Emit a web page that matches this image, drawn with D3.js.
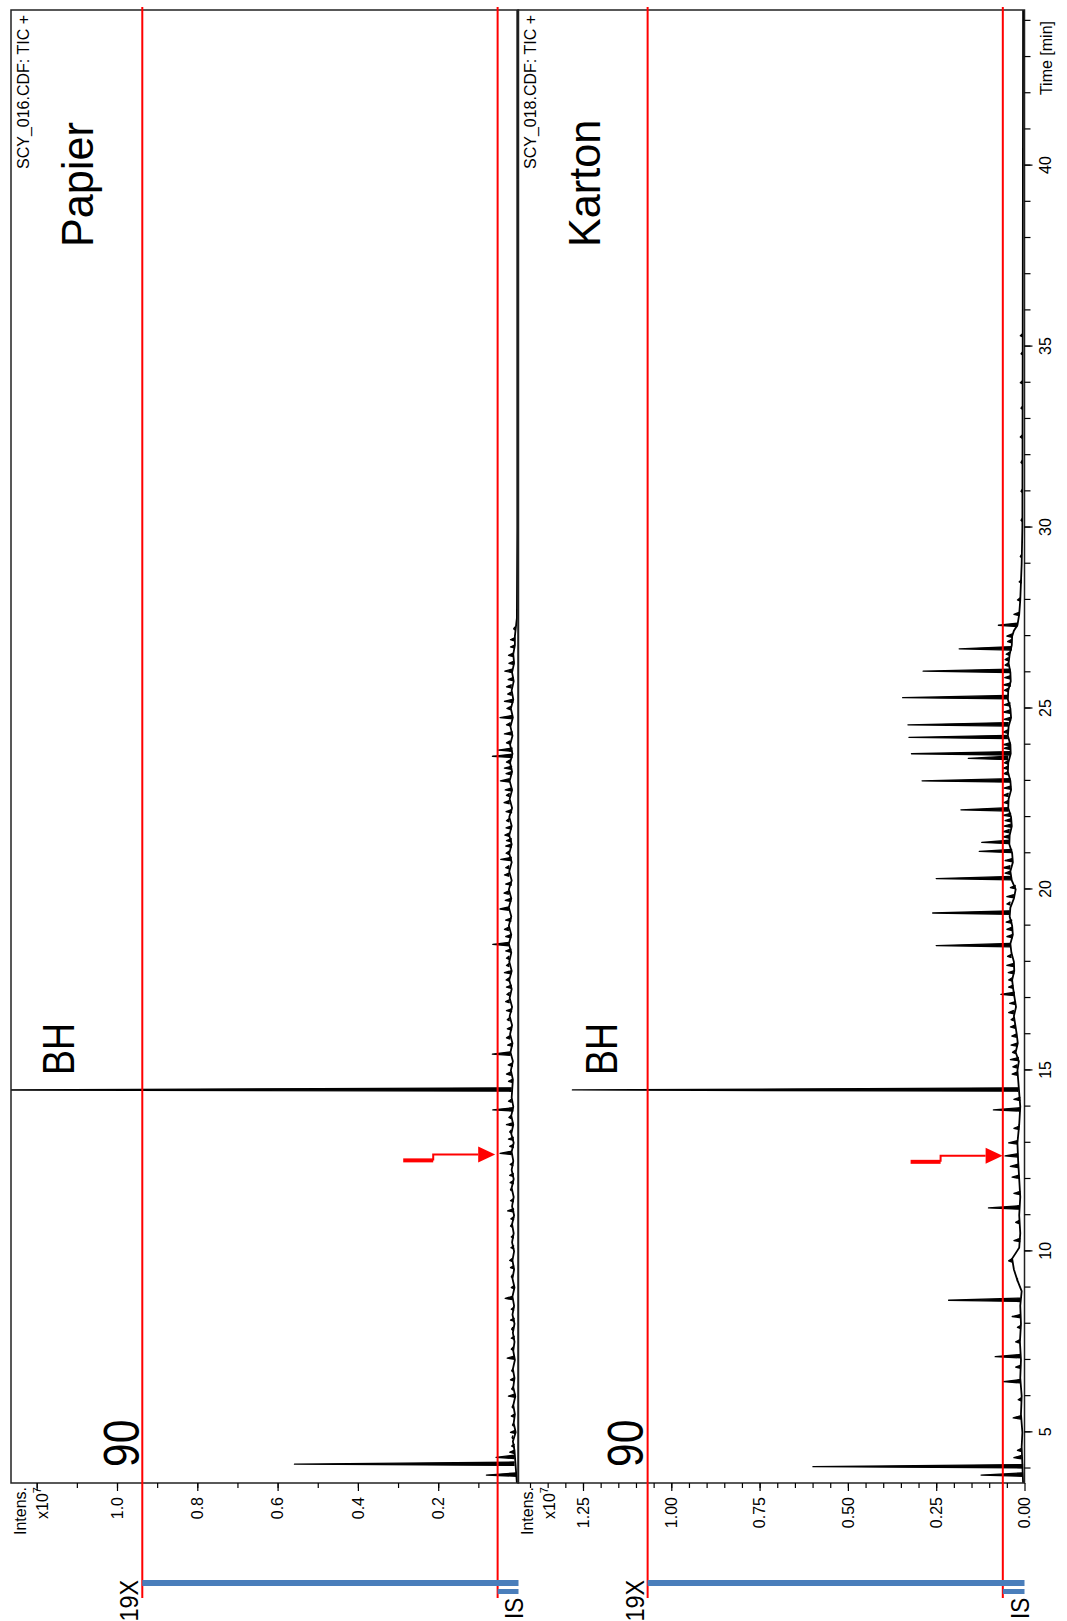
<!DOCTYPE html>
<html>
<head>
<meta charset="utf-8">
<script src="https://cdn.jsdelivr.net/npm/d3@7"></script>
<style>
  html, body { margin: 0; padding: 0; background: #fff; }
  svg { display: block; }
  text { font-family: "Liberation Sans", Arial, sans-serif; fill: #000; }
</style>
</head>
<body>
<svg id="chart" width="1067" height="1621"></svg>
<script>
// ---- data (time in min, intensity in 1e7 counts) ----
const timeMajor = [5, 10, 15, 20, 25, 30, 35, 40];

const papierTicks = [0.2, 0.4, 0.6, 0.8, 1.0, 1.2];
const papierTickLabels = ['0.2', '0.4', '0.6', '0.8', '1.0', ''];
const kartonTicks = [0, 0.25, 0.5, 0.75, 1.0, 1.25];
const kartonTickLabels = ['0.00', '0.25', '0.50', '0.75', '1.00', '1.25'];

// red marker levels: [upper, IS level]
const papierLevels = [0.937, 0.052];
const kartonLevels = [1.067, 0.0614];

// arrow targets [time, intensity of tip]
const papierArrow = [12.68, 0.058];
const kartonArrow = [12.64, 0.062];

const papierBaseline = [
  [3.6, 0.004], [4.5, 0.01], [4.75, 0.014], [5, 0.007], [5.25, 0.012], [5.5, 0.009], [5.75, 0.013],
  [6, 0.008], [6.25, 0.013], [6.5, 0.01], [6.75, 0.014], [7, 0.009], [7.25, 0.013], [7.5, 0.01],
  [7.75, 0.014], [8, 0.01], [8.25, 0.015], [8.5, 0.011], [8.75, 0.015], [9, 0.01], [9.25, 0.015],
  [9.5, 0.011], [9.75, 0.015], [10, 0.011], [10.25, 0.016], [10.5, 0.012], [10.75, 0.016],
  [11, 0.011], [11.25, 0.016], [11.5, 0.012], [11.75, 0.017], [12, 0.012], [12.25, 0.017],
  [12.5, 0.013], [12.75, 0.017], [13, 0.012], [13.25, 0.018], [13.5, 0.013], [13.75, 0.018],
  [14, 0.013], [14.25, 0.017], [14.75, 0.014], [15, 0.019], [15.25, 0.014], [15.5, 0.02],
  [15.75, 0.015], [16, 0.021], [16.25, 0.016], [16.5, 0.022], [16.75, 0.016], [17, 0.022],
  [17.25, 0.017], [17.5, 0.023], [17.75, 0.017], [18, 0.023], [18.25, 0.018], [18.5, 0.024],
  [18.75, 0.018], [19, 0.024], [19.25, 0.018], [19.5, 0.024], [19.75, 0.018], [20, 0.024],
  [20.25, 0.017], [20.5, 0.023], [20.75, 0.017], [21, 0.023], [21.25, 0.017], [21.5, 0.023],
  [21.75, 0.017], [22, 0.023], [22.25, 0.016], [22.5, 0.022], [22.75, 0.016], [23, 0.022],
  [23.25, 0.016], [23.5, 0.021], [23.75, 0.015], [24, 0.021], [24.25, 0.015], [24.5, 0.02],
  [24.75, 0.014], [25, 0.019], [25.25, 0.013], [25.5, 0.017], [25.75, 0.012], [26, 0.016],
  [26.25, 0.011], [26.5, 0.013], [26.75, 0.009], [27, 0.009], [27.5, 0.004], [30, 0.003], [44.3, 0.003]
];
const papierPeaks = [
  [3.82, 0.080], [4.12, 0.558], [4.31, 0.056], [4.45, 0.022], [4.62, 0.017], [4.85, 0.016],
  [5.0, 0.02], [5.2, 0.015], [5.45, 0.018], [5.7, 0.016], [6.0, 0.025], [6.2, 0.017], [6.45, 0.02],
  [6.7, 0.017], [7.05, 0.028], [7.3, 0.018], [7.6, 0.018], [7.85, 0.017], [8.1, 0.02], [8.4, 0.018],
  [8.7, 0.033], [9.0, 0.018], [9.3, 0.018], [9.55, 0.02], [9.75, 0.022], [10.1, 0.019], [10.4, 0.018],
  [10.7, 0.02], [10.9, 0.019], [11.12, 0.027], [11.4, 0.02], [11.7, 0.02], [11.9, 0.021], [12.1, 0.022],
  [12.4, 0.021], [12.71, 0.046], [12.9, 0.022], [13.1, 0.025], [13.3, 0.022], [13.5, 0.03],
  [13.7, 0.024], [13.91, 0.064], [14.15, 0.025], [14.46, 1.35], [14.7, 0.025], [14.9, 0.03],
  [15.15, 0.026], [15.45, 0.065], [15.7, 0.027], [15.9, 0.03], [16.15, 0.028], [16.4, 0.028],
  [16.65, 0.03], [16.9, 0.032], [17.1, 0.029], [17.3, 0.03], [17.5, 0.031], [17.7, 0.035],
  [17.9, 0.03], [18.1, 0.03], [18.3, 0.032], [18.48, 0.064], [18.7, 0.032], [18.9, 0.035],
  [19.15, 0.032], [19.46, 0.046], [19.7, 0.033], [19.9, 0.036], [20.15, 0.032], [20.4, 0.035],
  [20.6, 0.032], [20.83, 0.044], [21.0, 0.031], [21.2, 0.032], [21.35, 0.03], [21.5, 0.034],
  [21.7, 0.031], [21.9, 0.03], [22.15, 0.031], [22.4, 0.036], [22.6, 0.03], [22.75, 0.033],
  [23.0, 0.045], [23.2, 0.031], [23.35, 0.035], [23.52, 0.03], [23.68, 0.065], [23.85, 0.05],
  [24.05, 0.03], [24.3, 0.035], [24.55, 0.03], [24.75, 0.046], [25.0, 0.029], [25.2, 0.035],
  [25.4, 0.027], [25.6, 0.03], [25.8, 0.026], [26.03, 0.034], [26.25, 0.024], [26.47, 0.025],
  [26.7, 0.02], [26.9, 0.02], [27.2, 0.012]
];

const kartonBaseline = [
  [3.6, 0.004], [4.6, 0.008], [5, 0.006], [5.5, 0.01], [6, 0.008], [6.5, 0.012], [7, 0.01],
  [7.5, 0.013], [8, 0.01], [8.5, 0.012], [8.9, 0.008], [9.2, 0.02], [9.5, 0.03], [9.8, 0.035],
  [10.1, 0.015], [10.5, 0.012], [11, 0.015], [11.5, 0.012], [12, 0.015], [12.5, 0.018], [13, 0.02],
  [13.5, 0.015], [14, 0.012], [14.75, 0.018], [15, 0.02], [15.25, 0.016], [15.5, 0.025],
  [15.75, 0.019], [16, 0.022], [16.25, 0.026], [16.5, 0.03], [16.75, 0.024], [17, 0.028],
  [17.25, 0.032], [17.5, 0.035], [17.75, 0.029], [18, 0.03], [18.25, 0.037], [18.5, 0.04],
  [18.75, 0.033], [19, 0.035], [19.25, 0.042], [19.5, 0.04], [19.75, 0.03], [20, 0.025],
  [20.25, 0.036], [20.5, 0.04], [20.75, 0.033], [21, 0.035], [21.25, 0.043], [21.5, 0.042],
  [21.75, 0.036], [22, 0.038], [22.25, 0.046], [22.5, 0.045], [22.75, 0.038], [23, 0.04],
  [23.25, 0.047], [23.5, 0.046], [23.75, 0.039], [24, 0.04], [24.25, 0.047], [24.5, 0.045],
  [24.75, 0.038], [25, 0.04], [25.25, 0.047], [25.5, 0.046], [25.75, 0.039], [26, 0.04],
  [26.25, 0.045], [26.5, 0.042], [26.75, 0.036], [27, 0.035], [27.15, 0.03], [27.3, 0.02],
  [27.6, 0.015], [28, 0.012], [29, 0.008], [30, 0.006], [35.5, 0.005], [44.3, 0.004]
];
const kartonPeaks = [
  [3.82, 0.123], [4.05, 0.599], [4.3, 0.03], [4.5, 0.02], [5.4, 0.032], [5.9, 0.018], [6.4, 0.06],
  [6.8, 0.025], [7.09, 0.083], [7.5, 0.025], [7.9, 0.02], [8.2, 0.035], [8.65, 0.215], [9.2, 0.02],
  [9.74, 0.045], [10.3, 0.03], [10.8, 0.025], [11.2, 0.102], [11.6, 0.03], [12.05, 0.035],
  [12.35, 0.04], [12.64, 0.055], [13.0, 0.045], [13.4, 0.03], [13.91, 0.088], [14.2, 0.03],
  [14.46, 1.28], [14.9, 0.035], [15.1, 0.033], [15.3, 0.04], [15.5, 0.034], [15.7, 0.038],
  [15.95, 0.036], [16.2, 0.04], [16.4, 0.038], [16.6, 0.045], [16.85, 0.042], [17.1, 0.067],
  [17.3, 0.045], [17.5, 0.045], [17.7, 0.046], [17.9, 0.05], [18.15, 0.048], [18.45, 0.25],
  [18.7, 0.05], [18.9, 0.05], [19.1, 0.052], [19.35, 0.26], [19.6, 0.05], [19.8, 0.05],
  [20.05, 0.04], [20.3, 0.25], [20.45, 0.055], [20.6, 0.06], [20.8, 0.055], [21.05, 0.128],
  [21.3, 0.121], [21.45, 0.06], [21.6, 0.06], [21.75, 0.058], [21.9, 0.055], [22.05, 0.06],
  [22.2, 0.18], [22.4, 0.058], [22.6, 0.06], [22.8, 0.058], [23.0, 0.29], [23.2, 0.058],
  [23.35, 0.06], [23.5, 0.057], [23.62, 0.159], [23.75, 0.32], [23.9, 0.058], [24.0, 0.06],
  [24.2, 0.327], [24.35, 0.06], [24.55, 0.33], [24.7, 0.058], [24.9, 0.06], [25.1, 0.058],
  [25.3, 0.345], [25.5, 0.057], [25.65, 0.06], [25.85, 0.056], [26.03, 0.287], [26.2, 0.055],
  [26.35, 0.055], [26.5, 0.052], [26.65, 0.185], [26.85, 0.048], [27.0, 0.05], [27.3, 0.074],
  [27.6, 0.03], [28.0, 0.02], [28.5, 0.015], [29.2, 0.012], [30.2, 0.01], [31, 0.01], [31.8, 0.01],
  [32.5, 0.012], [33.3, 0.01], [34, 0.012], [34.8, 0.01], [35.3, 0.012]
];

// ---- layout ----
// the whole chart is drawn upright and then turned 90deg counter-clockwise
const W = 1067, H = 1621;
const svg = d3.select('#chart');
const g = svg.append('g').attr('transform', `translate(0,${H}) rotate(-90)`);

const x = d3.scaleLinear().domain([3.6, 44.3]).range([138, 1611]);
const yP = d3.scaleLinear().domain([0, 1.264]).range([518.5, 11]);
const yK = d3.scaleLinear().domain([0, 1.434]).range([1024.5, 518]);

const panels = [
  { key: 'p', name: 'Papier', file: 'SCY_016.CDF: TIC +', y: yP, top: 11, bottom: 518.5,
    ticks: papierTicks, labels: papierTickLabels, minor: d3.range(0.1, 1.26, 0.1),
    baseline: papierBaseline, peaks: papierPeaks, levels: papierLevels, arrow: papierArrow,
    bhV: 74, ninetyV: 139 },
  { key: 'k', name: 'Karton', file: 'SCY_018.CDF: TIC +', y: yK, top: 518, bottom: 1024.5,
    ticks: kartonTicks, labels: kartonTickLabels, minor: d3.range(0.05, 1.43, 0.05),
    baseline: kartonBaseline, peaks: kartonPeaks, levels: kartonLevels, arrow: kartonArrow,
    bhV: 617, ninetyV: 643 }
];

const defs = svg.append('defs');
const bisect = d3.bisector(d => d[0]).center;

panels.forEach(p => {
  const y = p.y;

  defs.append('clipPath').attr('id', 'clip-' + p.key)
    .append('rect')
    .attr('x', x.range()[0]).attr('y', p.top)
    .attr('width', x.range()[1] - x.range()[0])
    .attr('height', p.bottom - p.top + 1);

  // trace
  const plot = g.append('g').attr('clip-path', `url(#clip-${p.key})`);
  const line = d3.line().x(d => x(d[0])).y(d => y(d[1]));

  plot.append('path')
    .attr('d', line(p.baseline))
    .attr('fill', 'none')
    .attr('stroke', '#000')
    .attr('stroke-width', 1.8);

  plot.selectAll('path.peak')
    .data(p.peaks)
    .enter()
    .append('path')
    .attr('class', 'peak')
    .attr('d', d => {
      const b = p.baseline[bisect(p.baseline, d[0])][1];
      return line([[d[0] - 0.035, b], [d[0], d[1]], [d[0] + 0.06, b]]);
    })
    .attr('fill', '#000')
    .attr('stroke', '#000')
    .attr('stroke-width', 1.3)
    .attr('stroke-linejoin', 'round');

  // frame
  g.append('rect')
    .attr('x', x.range()[0]).attr('y', p.top)
    .attr('width', x.range()[1] - x.range()[0])
    .attr('height', p.bottom - p.top)
    .attr('fill', 'none')
    .attr('stroke', '#222')
    .attr('stroke-width', 1.5);

  // intensity axis (left in upright view)
  const ax = g.append('g').attr('transform', `translate(${x.range()[0]},0)`);
  ax.call(d3.axisLeft(y).tickValues(p.minor).tickSize(5).tickFormat(''))
    .call(s => s.select('.domain').remove());
  const axMajor = g.append('g').attr('transform', `translate(${x.range()[0]},0)`);
  axMajor.call(d3.axisLeft(y).tickValues(p.ticks).tickSize(8).tickPadding(6)
      .tickFormat((d, i) => p.labels[i]))
    .call(s => s.select('.domain').remove());
  g.selectAll('.tick line').attr('stroke', '#000').attr('stroke-width', 1.2);
  axMajor.selectAll('text')
    .style('font-size', '16px')
    .style('font-family', '"Liberation Sans", Arial, sans-serif');

  // "Intens. x10^7"
  g.append('text')
    .attr('x', 134).attr('y', p.top + 15)
    .attr('text-anchor', 'end')
    .style('font-size', '16px')
    .text('Intens.');
  const ex = g.append('text')
    .attr('x', 134).attr('y', p.top + 37)
    .attr('text-anchor', 'end')
    .style('font-size', '16px');
  ex.append('tspan').text('x10');
  ex.append('tspan').attr('dy', -7).style('font-size', '11px').text('7');

  // file label
  g.append('text')
    .attr('x', 1606).attr('y', p.top + 18)
    .attr('text-anchor', 'end')
    .style('font-size', '16px')
    .text(p.file);

  // panel name
  g.append('text')
    .attr('transform', `translate(1374,${p.top + 82}) scale(0.96,1)`)
    .style('font-size', '45px')
    .text(p.name);

  // BH label
  g.append('text')
    .attr('transform', `translate(546,${p.bhV}) scale(0.85,1)`)
    .style('font-size', '44px')
    .text('BH');

  // 90 label
  g.append('text')
    .attr('transform', `translate(154,${p.ninetyV}) scale(0.85,1)`)
    .style('font-size', '50px')
    .text('90');

  // red level lines
  g.selectAll(null)
    .data(p.levels)
    .enter()
    .append('line')
    .attr('x1', 23).attr('x2', 1614)
    .attr('y1', d => y(d)).attr('y2', d => y(d))
    .attr('stroke', '#ff0000')
    .attr('stroke-width', 2);

  // blue range bars below the intensity axis
  g.append('rect')
    .attr('x', 35).attr('width', 6)
    .attr('y', y(p.levels[0])).attr('height', y(0) - y(p.levels[0]))
    .attr('fill', '#4a7ebb');
  g.append('rect')
    .attr('x', 27).attr('width', 5)
    .attr('y', y(p.levels[1])).attr('height', y(0) - y(p.levels[1]))
    .attr('fill', '#4a7ebb');

  g.append('text')
    .attr('transform', `translate(41,${y(p.levels[0]) - 4}) scale(0.9,1)`)
    .attr('text-anchor', 'end')
    .style('font-size', '26px')
    .text('19X');
  g.append('text')
    .attr('transform', `translate(2,${y(0) + 4}) scale(0.9,1)`)
    .style('font-size', '25px')
    .text('IS');

  // red arrow pointing at the marked peak
  const au = x(p.arrow[0]);
  const av = y(p.arrow[1]);
  g.append('line')
    .attr('x1', au - 6).attr('x2', au - 6)
    .attr('y1', av - 92).attr('y2', av - 62)
    .attr('stroke', '#ff0000').attr('stroke-width', 4);
  g.append('path')
    .attr('d', `M${au - 6},${av - 62} L${au},${av - 62} L${au},${av - 17}`)
    .attr('fill', 'none')
    .attr('stroke', '#ff0000').attr('stroke-width', 2);
  g.append('path')
    .attr('d', `M${au - 8},${av - 17} L${au + 8},${av - 17} L${au},${av} Z`)
    .attr('fill', '#ff0000');
});

// time axis (bottom in upright view)
const tx = g.append('g').attr('transform', `translate(0,${yK(0)})`);
tx.call(d3.axisBottom(x).tickValues(d3.range(4, 45, 1)).tickSize(6).tickFormat(''))
  .call(s => s.select('.domain').remove());
const txMajor = g.append('g').attr('transform', `translate(0,${yK(0)})`);
txMajor.call(d3.axisBottom(x).tickValues(timeMajor).tickSize(8).tickPadding(7))
  .call(s => s.select('.domain').remove());
g.selectAll('.tick line').attr('stroke', '#000').attr('stroke-width', 1.2);
txMajor.selectAll('text')
  .style('font-size', '16px')
  .style('font-family', '"Liberation Sans", Arial, sans-serif');

g.append('text')
  .attr('x', 1600).attr('y', yK(0) + 27)
  .attr('text-anchor', 'end')
  .style('font-size', '16px')
  .text('Time [min]');
</script>
</body>
</html>
